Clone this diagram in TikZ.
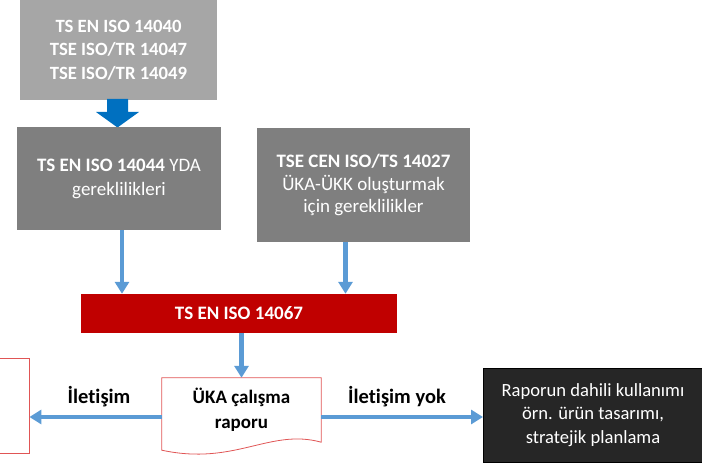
\documentclass[tikz,border=0pt]{standalone}
\usepackage{fontspec}
\setmainfont{Carlito}[Ligatures={NoCommon}]
\usetikzlibrary{arrows.meta}
\definecolor{lightgrey}{HTML}{A6A6A6}
\definecolor{midgrey}{HTML}{7F7F7F}
\definecolor{darkred}{HTML}{C00000}
\definecolor{connblue}{HTML}{5B9BD5}
\definecolor{blockblue}{HTML}{0070C0}
\definecolor{docred}{HTML}{E05555}
\definecolor{nearblack}{HTML}{262626}
\begin{document}
\begin{tikzpicture}[x=1pt,y=-1pt,
  greybox/.style={fill=#1, draw=none, text=white, align=center, inner sep=0pt,
    font=\fontsize{19}{23.5}\selectfont},
  conn/.style={draw=connblue, line width=4.5pt,
    -{Triangle[width=14pt,length=12pt]}},
  lbl/.style={font=\fontsize{20.5}{24}\selectfont\bfseries, inner sep=0pt}]
\useasboundingbox (0,0) rectangle (702,465);

% source standards
\node[greybox=lightgrey, minimum width=197pt, minimum height=100pt,
  font=\fontsize{18.7}{23.5}\selectfont\bfseries]
  (src) at (118.5,50) {TS EN ISO 14040\\TSE ISO/TR 14047\\TSE ISO/TR 14049};

% block arrow below the source box
\fill[blockblue] (107,99) -- (128,99) -- (128,112) -- (139,112) -- (117.5,127.5)
  -- (96,112) -- (107,112) -- cycle;

% requirement boxes
\node[greybox=midgrey, minimum width=204pt, minimum height=103pt,
  font=\fontsize{19}{24}\selectfont]
  (lca) at (119,178.5) {\textbf{TS EN ISO 14044} YDA\\gereklilikleri};
\node[greybox=midgrey, minimum width=213pt, minimum height=114pt,
  font=\fontsize{19}{22.5}\selectfont]
  (pcr) at (363.5,185) {\textbf{TSE CEN ISO/TS 14027}\\ÜKA-ÜKK oluşturmak\\için gereklilikler};

% carbon footprint standard
\node[fill=darkred, text=white, minimum width=316pt, minimum height=39pt, inner sep=0pt,
  font=\fontsize{19}{22}\selectfont\bfseries]
  (cfp) at (239,313.5) {TS EN ISO 14067};

% study report (document shape)
\node[minimum width=159pt, minimum height=64pt, inner sep=0pt, align=center,
  font=\fontsize{19}{25}\selectfont\bfseries]
  (rep) at (241.5,410) {ÜKA çalışma\\raporu};
\draw[docred, line width=0.8pt]
  (rep.north west) -- (rep.north east) -- (rep.south east)
  .. controls (270,428) and (235,466) .. ([yshift=-8pt]rep.south west) -- cycle;

% communicated report target (cut at the left edge)
\node[draw=docred, line width=0.8pt, minimum width=40pt, minimum height=95pt, inner sep=0pt]
  (pub) at (9,405.5) {};

% internal use
\node[fill=nearblack, draw=black, line width=1pt, text=white, align=center,
  minimum width=219pt, minimum height=94pt, inner sep=0pt,
  font=\fontsize{18.6}{23.5}\selectfont]
  (int) at (593,415) {Raporun dahili kullanımı\\örn. ürün tasarımı,\\stratejik planlama};

% connectors
\draw[conn] ([xshift=3pt]lca.south) -- ([xshift=3pt]lca.south |- cfp.north);
\draw[conn] ([xshift=-18pt]pcr.south) -- ([xshift=-18pt]pcr.south |- cfp.north);
\draw[conn] (rep.north |- cfp.south) -- (rep.north);
\draw[conn] ([yshift=-7pt]rep.west) -- ([yshift=-7pt]rep.west -| pub.east);
\draw[conn] ([yshift=-7pt]rep.east) -- ([yshift=-7pt]rep.east -| int.west);

% connector labels
\node[lbl] (comm) at (99,397) {İletişim};
\node[lbl] (nocomm) at (397,397) {İletişim yok};
\end{tikzpicture}
\end{document}
